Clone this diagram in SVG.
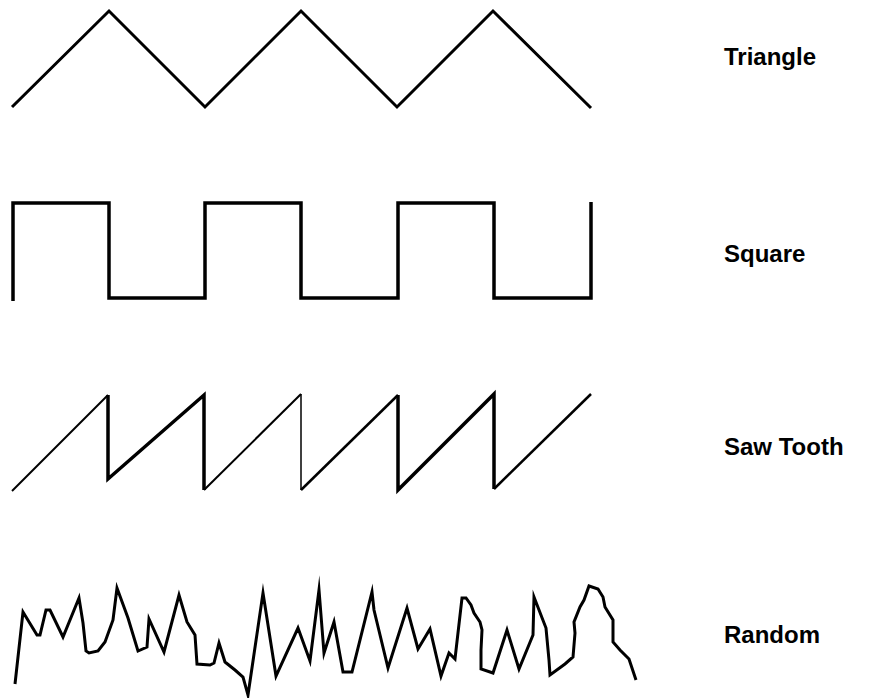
<svg xmlns="http://www.w3.org/2000/svg" width="883" height="698" viewBox="0 0 883 698">
<style>
.w{fill:none;stroke:#000;stroke-linejoin:miter;stroke-miterlimit:10;stroke-linecap:butt}
.lbl{font-family:"Liberation Sans",Arial,sans-serif;font-weight:bold;font-size:24px;fill:#000}
</style>
<rect width="883" height="698" fill="#fff"/>
<g id="triangle">
<polyline class="w" stroke-width="3" points="12,107 109,11 205,107 301,11 397,107 493,11 591,108"/>
<text class="lbl" x="724" y="65">Triangle</text>
</g>
<g id="square">
<path class="w" stroke-width="3.5" d="M13,301 V203 H109 V298 H205 V203 H301 V298 H398 V203 H494 V298 H591 V202"/>
<text class="lbl" x="724" y="262">Square</text>
</g>
<g id="sawtooth">
<path class="w" stroke-width="2" d="M12,491 L108,395"/>
<path class="w" stroke-width="3.5" d="M108,395 V479 L204,395 V490"/>
<path class="w" stroke-width="2" d="M204,490 L301,394"/>
<path class="w" stroke-width="1.5" d="M301,394 V490"/>
<path class="w" stroke-width="2.5" d="M301,490 L398,395"/>
<path class="w" stroke-width="3.5" d="M398,395 V490 L494,394 V489"/>
<path class="w" stroke-width="2.5" d="M494,489 L591,394"/>
<text class="lbl" x="724" y="455">Saw Tooth</text>
</g>
<g id="random">
<polyline class="w" stroke-width="3" points="15,684 23,612 37,635 40,635 46,610 50,610 63,637 79,598 83,623 86,651 89,653 98,651 105,642 113,620 117,588 128,618 138,651 147,647 149,619 164,652 179,595 187,622 195,635 197,664 210,665 214,663 219,643 225,662 235,670 243,677 248,695 263,593 276,676 298,628 310,661 319,590 324,653 334,622 343,672 352,672 372,592 374,610 388,668 407,608 418,649 430,629 441,676 449,653 455,659 462,598 466,598 471,605 474,613 480,622 482,630 481,650 481,669 493,673 507,630 519,669 533,635 534,597 546,628 549,660 550,675 565,664 573,657 575,633 574,622 580,607 584,600 589,586 598,589 603,597 605,607 613,620 613,642 620,650 629,659 636,680"/>
<text class="lbl" x="724" y="643">Random</text>
</g>
</svg>
